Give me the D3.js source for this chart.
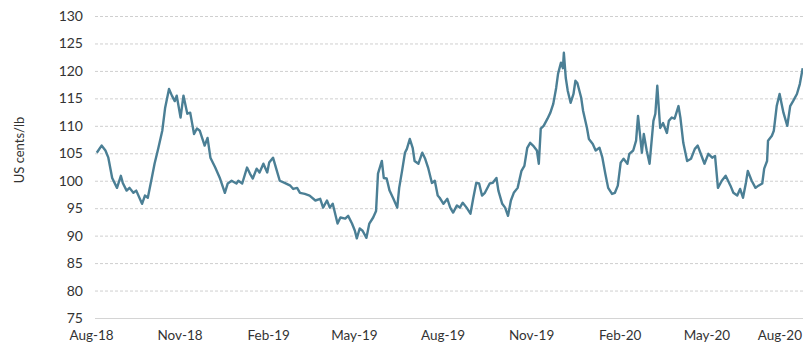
<!DOCTYPE html>
<html><head><meta charset="utf-8">
<script src="https://cdn.jsdelivr.net/npm/d3@7"></script>
<style>
html,body{margin:0;padding:0;background:#fff;}
svg{display:block;font-family:Lato,"Open Sans",sans-serif;}
</style></head>
<body>
<svg id="chart" width="803" height="354"></svg>
<script>
const dates = ["2018-08-07","2018-08-12","2018-08-16","2018-08-19","2018-08-23","2018-08-28","2018-09-01","2018-09-03","2018-09-07","2018-09-10","2018-09-14","2018-09-17","2018-09-23","2018-09-26","2018-09-29","2018-10-03","2018-10-06","2018-10-10","2018-10-14","2018-10-17","2018-10-21","2018-10-24","2018-10-27","2018-10-29","2018-11-02","2018-11-05","2018-11-09","2018-11-12","2018-11-16","2018-11-19","2018-11-22","2018-11-27","2018-11-30","2018-12-03","2018-12-08","2018-12-13","2018-12-18","2018-12-21","2018-12-25","2018-12-30","2019-01-01","2019-01-05","2019-01-10","2019-01-13","2019-01-16","2019-01-20","2019-01-23","2019-01-27","2019-01-31","2019-02-02","2019-02-06","2019-02-10","2019-02-13","2019-02-18","2019-02-24","2019-02-27","2019-03-03","2019-03-06","2019-03-11","2019-03-16","2019-03-22","2019-03-27","2019-03-30","2019-04-03","2019-04-06","2019-04-09","2019-04-14","2019-04-17","2019-04-22","2019-04-25","2019-04-29","2019-05-02","2019-05-04","2019-05-07","2019-05-10","2019-05-14","2019-05-17","2019-05-21","2019-05-24","2019-05-26","2019-05-30","2019-06-01","2019-06-04","2019-06-07","2019-06-11","2019-06-15","2019-06-17","2019-06-20","2019-06-23","2019-06-25","2019-06-28","2019-07-01","2019-07-03","2019-07-07","2019-07-11","2019-07-14","2019-07-17","2019-07-21","2019-07-24","2019-07-27","2019-07-29","2019-08-02","2019-08-06","2019-08-09","2019-08-12","2019-08-16","2019-08-19","2019-08-22","2019-08-26","2019-08-30","2019-09-02","2019-09-05","2019-09-08","2019-09-11","2019-09-14","2019-09-19","2019-09-22","2019-09-26","2019-09-28","2019-10-02","2019-10-05","2019-10-08","2019-10-11","2019-10-14","2019-10-18","2019-10-22","2019-10-25","2019-10-28","2019-10-31","2019-11-03","2019-11-07","2019-11-09","2019-11-11","2019-11-14","2019-11-18","2019-11-21","2019-11-24","2019-11-27","2019-11-29","2019-12-02","2019-12-04","2019-12-05","2019-12-07","2019-12-09","2019-12-12","2019-12-15","2019-12-17","2019-12-19","2019-12-23","2019-12-25","2019-12-29","2019-12-31","2020-01-04","2020-01-07","2020-01-11","2020-01-14","2020-01-17","2020-01-20","2020-01-24","2020-01-27","2020-01-30","2020-02-02","2020-02-05","2020-02-09","2020-02-11","2020-02-15","2020-02-18","2020-02-20","2020-02-22","2020-02-24","2020-02-26","2020-02-29","2020-03-03","2020-03-07","2020-03-09","2020-03-11","2020-03-14","2020-03-17","2020-03-21","2020-03-23","2020-03-26","2020-03-29","2020-04-02","2020-04-04","2020-04-07","2020-04-11","2020-04-15","2020-04-19","2020-04-22","2020-04-26","2020-04-29","2020-05-03","2020-05-07","2020-05-10","2020-05-13","2020-05-17","2020-05-21","2020-05-26","2020-05-29","2020-06-02","2020-06-05","2020-06-08","2020-06-11","2020-06-13","2020-06-17","2020-06-21","2020-06-24","2020-06-28","2020-06-30","2020-07-03","2020-07-04","2020-07-08","2020-07-10","2020-07-13","2020-07-16","2020-07-20","2020-07-24","2020-07-27","2020-07-30","2020-08-03","2020-08-06","2020-08-09"];
const prices = [105.1,106.4,105.5,104.2,100.5,98.7,100.9,99.6,98.2,98.7,97.8,98.2,95.8,97.3,96.9,100.4,103.1,106,109.1,113.3,116.7,115.5,114.5,115.5,111.5,115.5,112.2,112.4,108.5,109.5,109.1,106.4,107.8,104.2,102.4,100.4,97.8,99.5,100,99.5,100,99.5,102.4,101.3,100.4,102.2,101.5,103.1,101.5,103.3,104.2,101.8,100,99.6,99.1,98.5,98.7,97.8,97.6,97.3,96.4,96.7,95.1,96.4,95.1,95.8,92.2,93.3,93.1,93.6,92.2,90.9,89.5,91.3,90.9,89.6,92.2,93.3,94.5,101.3,103.6,100.5,100.4,98.2,96.7,95.1,98.7,101.8,105.1,105.8,107.6,106,103.6,103.1,105.1,104,102.4,99.6,100,97.3,96.9,95.8,96.7,95.1,94.2,95.5,95.1,96,95.1,94,96.9,99.6,99.5,97.3,97.8,99.5,99.6,100.5,98.2,95.8,95.1,93.6,96.4,97.8,98.7,101.8,102.7,106,106.9,106.4,105.5,103.1,109.5,110,111.3,112.4,114,116.9,119.5,121.5,120.5,123.3,118.7,116.4,114.2,115.8,118.2,117.8,115.1,112.7,109.6,107.6,106.7,105.5,106,104.2,101.3,98.7,97.6,97.8,99.1,103.3,104,103.1,104.9,105.5,107.3,111.8,108.5,105.1,108.5,105.5,103.1,110.9,112.2,117.3,109.6,110.5,108.7,110.9,111.5,111.3,113.6,111.5,106.9,103.6,104,105.8,106.4,104.5,103.1,104.9,104.2,104.5,98.7,100,100.9,99.1,97.8,97.3,98.5,96.9,99.6,101.8,100,98.7,99.1,99.5,102.2,103.6,107.3,108.2,109.1,113.6,115.8,112.4,110,113.6,114.5,115.8,117.6,120.5];
const yTicks = [75,80,85,90,95,100,105,110,115,120,125,130];
const xTickDates = ["2018-08-01","2018-11-01","2019-02-01","2019-05-01","2019-08-01","2019-11-01","2020-02-01","2020-05-01","2020-08-01"];
const yTitle = "US cents/lb";

const parse = d3.timeParse("%Y-%m-%d");
const data = dates.map((d,i)=>({date:parse(d), v:prices[i]}));
const W = 803, H = 354;
const plotLeft = 95, plotRight = 803;
const svg = d3.select("#chart");
const FONT = "Lato,'Open Sans',sans-serif";

const x = d3.scaleTime().domain([parse("2018-08-01"), parse("2020-08-01")]).range([91, 795]);
const y = d3.scaleLinear().domain([75,130]).range([318,16]);

// gridlines
svg.append("g").selectAll("line").data(yTicks.filter(t=>t!==75)).join("line")
  .attr("x1",plotLeft).attr("x2",plotRight)
  .attr("y1",d=>y(d)+0.5).attr("y2",d=>y(d)+0.5)
  .attr("stroke","#cfcfcf").attr("stroke-width",1).attr("stroke-dasharray","3,2");
// baseline
svg.append("line").attr("x1",plotLeft).attr("x2",plotRight)
  .attr("y1",y(75)+0.5).attr("y2",y(75)+0.5).attr("stroke","#d4d4d4").attr("stroke-width",1);

// y axis labels
const yAxis = d3.axisLeft(y).tickValues(yTicks).tickSize(0).tickPadding(0).tickFormat(d3.format("d"));
const yg = svg.append("g").attr("transform","translate(83,0)").call(yAxis);
yg.select(".domain").remove();
yg.selectAll("text").attr("font-size",14).attr("fill","#333").attr("font-family",FONT);

// x axis labels
const xAxis = d3.axisBottom(x).tickValues(xTickDates.map(parse)).tickSize(0).tickPadding(0).tickFormat(d3.timeFormat("%b-%y"));
const xg = svg.append("g").attr("transform","translate(0,330)").call(xAxis);
xg.select(".domain").remove();
xg.selectAll("text").attr("font-size",13.5).attr("fill","#333").attr("font-family",FONT);
// keep last label inside the frame
xg.selectAll(".tick").each(function(){
  const t = d3.select(this).select("text");
  const bb = this.getBBox();
  const tr = d3.select(this).attr("transform");
  const tx = +tr.match(/translate\(([-\d.]+)/)[1];
  if (tx + bb.width/2 > W - 1) t.attr("text-anchor","end").attr("x", (W-1) - tx);
});

// y title
svg.append("text").attr("transform","translate(24,150) rotate(-90)")
  .attr("text-anchor","middle").attr("font-size",13).attr("fill","#333")
  .attr("font-family",FONT)
  .text(yTitle);

// line
const line = d3.line().x(d=>x(d.date)).y(d=>y(d.v)).curve(d3.curveLinear);
svg.append("path").datum(data).attr("d",line)
  .attr("fill","none").attr("stroke","#4b7f95").attr("stroke-width",2.4)
  .attr("stroke-linejoin","round");
</script>
</body></html>
